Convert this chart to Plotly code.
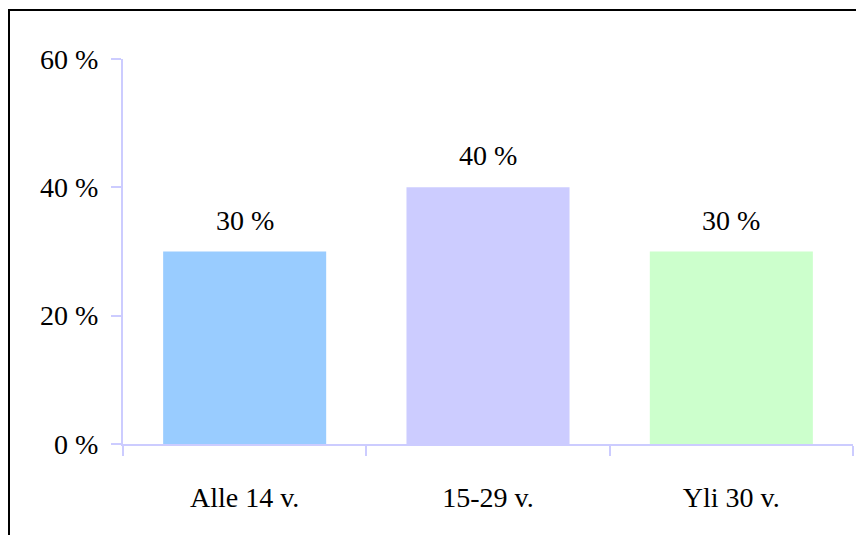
import plotly.graph_objects as go

categories = ["Alle 14 v.", "15-29 v.", "Yli 30 v."]
values = [30, 40, 30]
bar_colors = ["#99CCFF", "#CCCCFF", "#CCFFCC"]
y_ticks = [0, 20, 40, 60]
y_tick_labels = ["0 %", "20 %", "40 %", "60 %"]

W, H = 864, 535
OFF = 8  # page body margin
ml, mr, mt, mb = 123 - OFF, 11 + OFF, 59 - OFF, 91 + OFF
pw, ph = W - ml - mr, H - mt - mb

font = dict(family="Liberation Serif", size=28, color="#000000")
axis_col = "#CCCCFF"

fig = go.Figure()
fig.add_trace(go.Bar(
    x=categories, y=values, marker=dict(color=bar_colors, line=dict(width=0)),
    width=0.67, showlegend=False, hoverinfo="skip",
))
for c, v in zip(categories, values):
    fig.add_annotation(x=c, y=v, text=f"{v} %", showarrow=False, yanchor="bottom",
                       yshift=14, font=font)

fig.update_layout(
    width=W, height=H, margin=dict(l=ml, r=mr, t=mt, b=mb),
    paper_bgcolor="white", plot_bgcolor="white", font=font,
    xaxis=dict(showline=True, linecolor=axis_col, linewidth=2, ticks="outside",
               tickson="boundaries", ticklen=10, tickwidth=2, tickcolor=axis_col,
               showgrid=False, ticklabelstandoff=27, tickfont=font),
    yaxis=dict(range=[0, 60], tickvals=y_ticks, ticktext=y_tick_labels,
               showline=True, linecolor=axis_col, linewidth=2, ticks="outside",
               ticklen=10, tickwidth=2, tickcolor=axis_col, showgrid=False,
               zeroline=False, ticklabelstandoff=7, tickfont=font),
    bargap=0.33,
)
# outer frame (top/left visible)
fig.add_shape(type="rect", xref="paper", yref="paper",
              x0=(9 - OFF - ml) / pw, x1=2, y0=-2, y1=1 + (mt - (10 - OFF)) / ph,
              line=dict(color="#000000", width=2), fillcolor="rgba(0,0,0,0)", layer="above")

fig.write_html("out.html")
